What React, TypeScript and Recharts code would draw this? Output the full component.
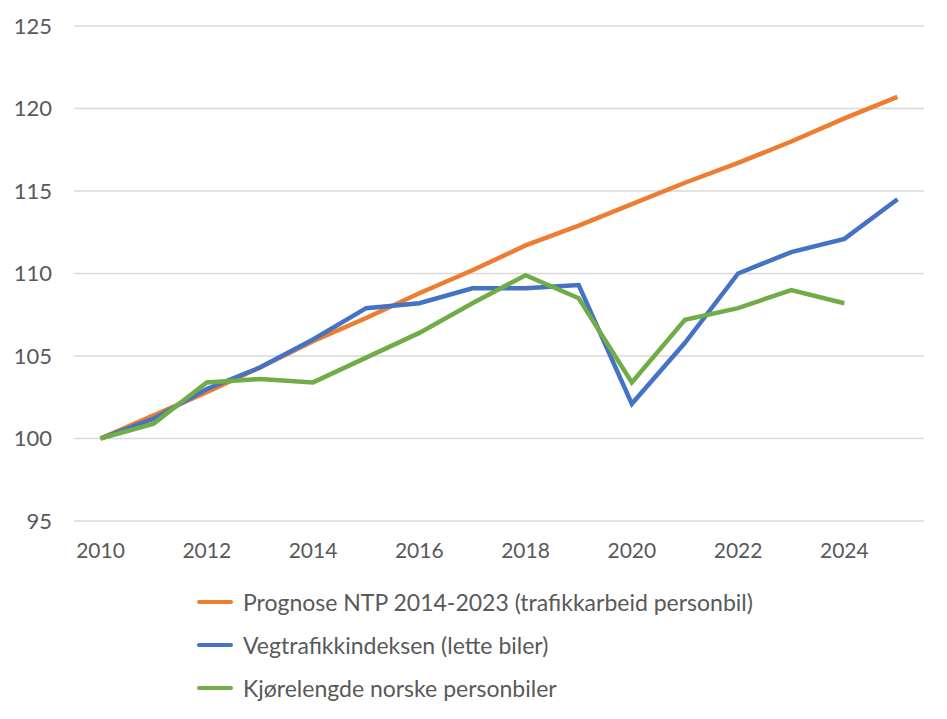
import { LineChart, Line, XAxis, YAxis, CartesianGrid, Legend } from 'recharts';

const years = ['2010', '2011', '2012', '2013', '2014', '2015', '2016', '2017', '2018', '2019', '2020', '2021', '2022', '2023', '2024', '2025'];
const prognose = [100, 101.4, 102.8, 104.3, 105.9, 107.3, 108.8, 110.2, 111.7, 112.9, 114.2, 115.5, 116.7, 118.0, 119.4, 120.7];
const vegtrafikk = [100, 101.2, 103.0, 104.3, 106.0, 107.9, 108.2, 109.1, 109.1, 109.3, 102.1, 105.8, 110.0, 111.3, 112.1, 114.5];
const kjorelengde = [100, 100.9, 103.4, 103.6, 103.4, 104.9, 106.4, 108.2, 109.9, 108.5, 103.4, 107.2, 107.9, 109.0, 108.2, null];
const yTicks = [95, 100, 105, 110, 115, 120, 125];

const series = [
  { key: 'prognose', name: 'Prognose NTP 2014-2023 (trafikkarbeid personbil)', color: '#ED7D31' },
  { key: 'vegtrafikk', name: 'Vegtrafikkindeksen (lette biler)', color: '#4472C4' },
  { key: 'kjorelengde', name: 'Kjørelengde norske personbiler', color: '#70AD47' },
];

const data = years.map((year, i) => ({
  year,
  prognose: prognose[i],
  vegtrafikk: vegtrafikk[i],
  kjorelengde: kjorelengde[i],
}));

const font = 'Lato, "Open Sans", sans-serif';

function LegendBox() {
  return (
    <div style={{ fontFamily: font }}>
      {series.map((s) => (
        <div key={s.key} style={{ display: 'flex', alignItems: 'center', height: 43 }}>
          <div style={{ width: 36, height: 4, background: s.color, borderRadius: 2, marginRight: 10 }} />
          <span style={{ fontSize: 23, color: '#595959' }}>{s.name}</span>
        </div>
      ))}
    </div>
  );
}

export default function App() {
  return (
    <div style={{ margin: -8, background: '#fff' }}>
      <LineChart width={947} height={719} data={data} margin={{ top: 26, right: 23, left: 0, bottom: 168 }}>
        <CartesianGrid vertical={false} stroke="#d9d9d9" strokeWidth={1.5} />
        <XAxis
          dataKey="year"
          interval={1}
          axisLine={false}
          tickLine={false}
          padding={{ left: 26.5, right: 26.5 }}
          tickMargin={16}
          height={30}
          tick={{ fontSize: 21, fill: '#595959', fontFamily: font }}
        />
        <YAxis
          domain={[95, 125]}
          ticks={yTicks}
          axisLine={false}
          tickLine={false}
          width={74}
          tickMargin={16}
          tick={{ fontSize: 22, fill: '#595959', fontFamily: font }}
        />
        <Legend
          layout="vertical"
          align="center"
          verticalAlign="middle"
          wrapperStyle={{ top: 580, left: 197, width: 'auto' }}
          content={() => <LegendBox />}
        />
        {series.map((s) => (
          <Line
            key={s.key}
            type="linear"
            dataKey={s.key}
            name={s.name}
            stroke={s.color}
            strokeWidth={4.5}
            dot={false}
            activeDot={false}
            isAnimationActive={false}
          />
        ))}
      </LineChart>
    </div>
  );
}
